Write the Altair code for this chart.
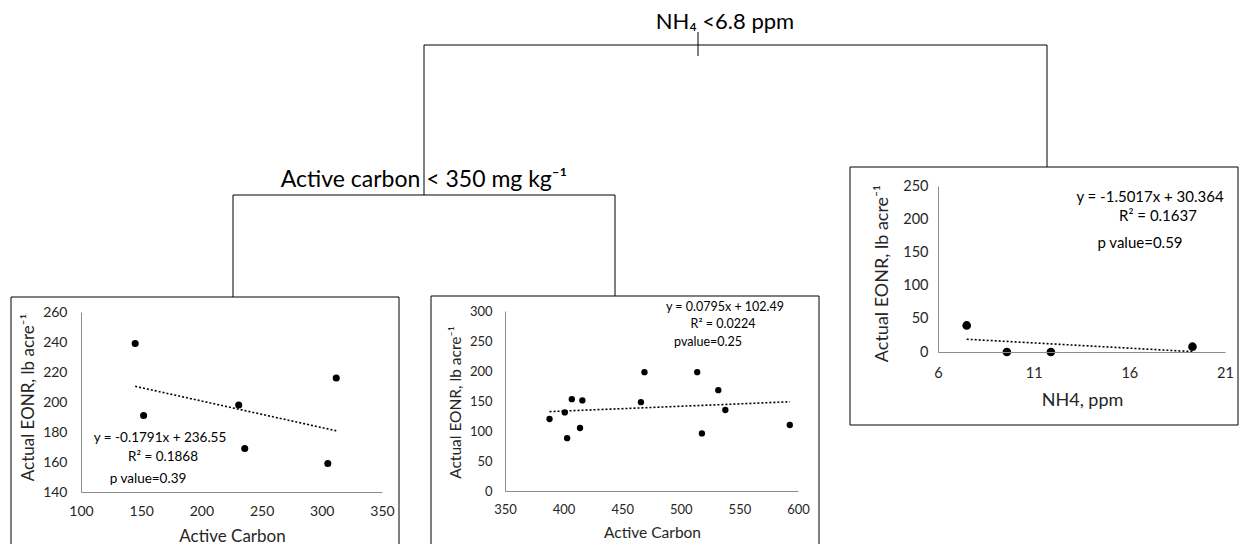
import altair as alt
import pandas as pd

# ---------------- data ----------------
ac_low = [145, 152, 231, 236, 305, 312]
eonr_low = [239, 191, 198, 169, 159, 216]

ac_high = [388, 401, 403, 407, 414, 416, 466, 469, 514, 518, 532, 538, 593]
eonr_high = [120, 131, 88, 153, 105, 151, 148, 198, 198, 96, 168, 135, 110]

nh4_ppm = [7.5, 9.6, 11.9, 19.3]
eonr_nh4 = [40, 0, 0, 8]

x_ticks_low = [100, 150, 200, 250, 300, 350]
y_ticks_low = [140, 160, 180, 200, 220, 240, 260]
x_ticks_high = [350, 400, 450, 500, 550, 600]
y_ticks_high = [0, 50, 100, 150, 200, 250, 300]
x_ticks_nh4 = [6, 11, 16, 21]
y_ticks_nh4 = [0, 50, 100, 150, 200, 250]

eq_low = ["y = -0.1791x + 236.55", "R² = 0.1868", "p value=0.39"]
eq_high = ["y = 0.0795x + 102.49", "R² = 0.0224", "pvalue=0.25"]
eq_nh4 = ["y = -1.5017x + 30.364", "R² = 0.1637", "p value=0.59"]

node_top = "NH₄ <6.8 ppm"
node_mid = "Active carbon < 350 mg kg⁻¹"
y_title = "Actual EONR, lb acre⁻¹"

# ---------------- layout (pixels) ----------------
W, H = 1232, 536
FONT = "Lato"
TXT = "#262626"

df_low = pd.DataFrame({"ac": ac_low, "eonr": eonr_low})
df_high = pd.DataFrame({"ac": ac_high, "eonr": eonr_high})
df_nh4 = pd.DataFrame({"nh4": nh4_ppm, "eonr": eonr_nh4})

one = pd.DataFrame({"k": [0]})

boxes = pd.DataFrame({
    "x": [3, 423, 842], "x2": [391, 811, 1230],
    "y": [289, 288, 159], "y2": [545, 545, 417],
})
segments = pd.DataFrame({
    "x":  [690, 416, 416, 1039, 225, 225, 607],
    "x2": [690, 1039, 416, 1039, 607, 225, 607],
    "y":  [24, 37, 37, 37, 187, 187, 187],
    "y2": [48, 37, 187, 159, 187, 289, 288],
})

box_layer = alt.Chart(boxes).mark_rect(fillOpacity=0, stroke="black", strokeWidth=1).encode(
    x=alt.X("x:Q", scale=None, axis=None), x2="x2:Q",
    y=alt.Y("y:Q", scale=None, axis=None), y2="y2:Q",
)
rule_layer = alt.Chart(segments).mark_rule(color="black", strokeWidth=1).encode(
    x=alt.X("x:Q", scale=None, axis=None), x2="x2:Q",
    y=alt.Y("y:Q", scale=None, axis=None), y2="y2:Q",
)


def panel(df, xf, xdom, xr, ydom, yr, xvals, yvals, psize, lab_fs, tit_fs,
          xtitle, xt, yt, xpad, ypad, dash_w):
    xax = alt.Axis(
        orient="bottom", offset=yr[0] - H, values=xvals, ticks=False, tickSize=0,
        grid=False, domainColor="#8c8c8c", domainWidth=1, zindex=1,
        labelFont=FONT, labelFontSize=lab_fs, labelColor=TXT, labelPadding=xpad,
        labelFlush=False, labelOverlap=False, labelBound=False,
        title=xtitle, titleFont=FONT, titleFontSize=tit_fs, titleFontWeight="normal",
        titleColor=TXT, titleX=xt[0], titleY=xt[1] - yr[0],
        titleBaseline="middle", titleAlign="center", titleAngle=0,
    )
    yax = alt.Axis(
        orient="left", offset=-xr[0], values=yvals, ticks=False, tickSize=0,
        grid=False, domainColor="#8c8c8c", domainWidth=1, zindex=1,
        labelFont=FONT, labelFontSize=lab_fs, labelColor=TXT, labelPadding=ypad,
        labelFlush=False, labelOverlap=False, labelBound=False,
        title=y_title, titleFont=FONT, titleFontSize=tit_fs, titleFontWeight="normal",
        titleColor=TXT, titleX=yt[0] - xr[0], titleY=yt[1],
        titleBaseline="middle", titleAlign="center", titleAngle=270,
    )
    xs = alt.Scale(domain=xdom, range=xr, nice=False, zero=False)
    ys = alt.Scale(domain=ydom, range=yr, nice=False, zero=False)
    enc = dict(
        x=alt.X(f"{xf}:Q", scale=xs, axis=xax),
        y=alt.Y("eonr:Q", scale=ys, axis=yax),
    )
    pts = alt.Chart(df).mark_circle(size=psize, color="black", opacity=1).encode(**enc)
    trend = alt.Chart(df).transform_regression(xf, "eonr").mark_line(
        color="black", strokeWidth=dash_w, strokeDash=[2, 2]
    ).encode(**enc)
    return alt.layer(pts, trend)


p_low = panel(df_low, "ac", [100, 350], [73, 374], [140, 260], [484, 304],
              x_ticks_low, y_ticks_low, 50, 14, 17, "Active Carbon",
              (224, 528), (20, 389), 12, 14, 1.6)
p_high = panel(df_high, "ac", [350, 600], [497, 790], [0, 300], [483, 303],
               x_ticks_high, y_ticks_high, 40, 13, 15.5, "Active Carbon",
               (644, 524), (447, 394), 12, 13, 1.6)
p_nh4 = panel(df_nh4, "nh4", [6, 21], [930, 1217], [0, 250], [344, 178],
              x_ticks_nh4, y_ticks_nh4, 75, 14.5, 18, "NH4, ppm",
              (1074, 392), (874, 265), 14, 10, 1.6)


def txt(s, x, y, fs, align="center"):
    return alt.Chart(one).mark_text(
        text=s, font=FONT, fontSize=fs, align=align, baseline="middle", color="black"
    ).encode(x=alt.value(x), y=alt.value(y))


texts = [
    txt(node_top, 717, 14, 22),
    txt(node_mid, 416, 172, 23),
    txt(eq_low[0], 152, 430, 13.5),
    txt(eq_low[1], 155, 449, 13.5),
    txt(eq_low[2], 140, 471, 13.5),
    txt(eq_high[0], 717, 299, 12.5),
    txt(eq_high[1], 715, 316, 12.5),
    txt(eq_high[2], 700, 334, 12.5),
    txt(eq_nh4[0], 1142, 189, 15),
    txt(eq_nh4[1], 1150, 208, 15),
    txt(eq_nh4[2], 1132, 235, 15),
]

chart = alt.layer(box_layer, rule_layer, p_low, p_high, p_nh4, *texts).resolve_scale(
    x="independent", y="independent"
).properties(
    width=W, height=H, padding=0, autosize=alt.AutoSizeParams(type="none"),
    background="white",
).configure_view(stroke=None)

chart.save("out.html", embed_options={"renderer": "svg", "actions": False})
